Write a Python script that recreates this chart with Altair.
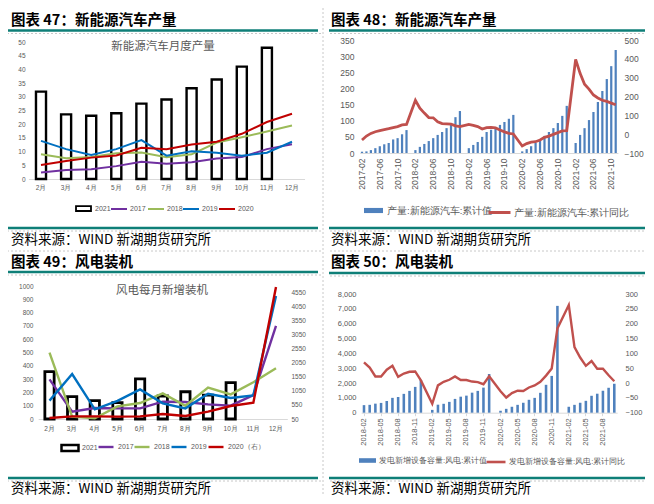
import altair as alt
import pandas as pd

W, H = 638, 488
M = 8


def X(x):
    return x - M


def Y(y):
    return y - M


# ---------------- data ----------------
months1 = ['2月', '3月', '4月', '5月', '6月', '7月', '8月', '9月', '10月', '11月', '12月']
nev_2021 = [31.9, 23.6, 23.1, 24.0, 27.5, 29.0, 33.1, 36.3, 41.0, 47.9]
nev_2017 = [2.4, 3.3, 3.6, 4.7, 6.3, 5.6, 6.1, 7.5, 8.0, 10.9, 12.7]
nev_2018 = [9.0, 7.6, 8.0, 9.4, 9.7, 7.9, 9.0, 13.3, 15.2, 17.3, 19.5]
nev_2019 = [13.9, 10.9, 8.8, 10.9, 14.2, 8.5, 10.1, 9.6, 8.5, 9.6, 13.6]
nev_2020 = [5.1, 6.6, 7.8, 8.6, 11.4, 10.9, 12.6, 13.6, 16.5, 20.8, 23.8]

all_months = [f"{y}-{m:02d}" for y in range(2017, 2022) for m in range(1, 13)]
months2 = all_months[all_months.index('2017-02'):all_months.index('2021-11') + 1]
nev_cum = [4, 5, 9, 15, 21, 27, 31, 42, 46, 58, 71,
           None, 9, 19, 28, 37, 46, 56, 65, 77, 90, 111, 130,
           None, 15, 25, 34, 50, 65, 72, 79, 87, 96, 106, 118,
           None, 5, 12, 21, 31, 39, 53, 65, 77, 93, 115, 146,
           None, 31, 56, 77, 102, 127, 158, 192, 229, 269, 319]
nev_yoy = [-31, -10, 4, 13, 19, 24, 29, 35, 40, 49, 52,
           None, 180, 138, 112, 88, 87, 66, 56, 55, 53, 44, 40,
           None, 52, 47, 40, 27, 35, 36, 33, 22, 12, 4, 1,
           None, -63, -50, -42, -40, -31, -17, -10, -1, 8, 17, 19,
           None, 397, 323, 265, 239, 208, 192, 180, 174, 165, 156]
ticks2 = ['2017-02', '2017-06', '2017-10', '2018-02', '2018-06', '2018-10', '2019-02',
          '2019-06', '2019-10', '2020-02', '2020-06', '2020-10', '2021-02', '2021-06', '2021-10']

wind_2021 = [356, 168, 138, 123, 301, 173, 205, 180, 273]
wind_2017 = [298, 55, 83, 80, 80, 130, 128, 110, 100, 180, 700]
wind_2018 = [499, 18, 5, 95, 120, 193, 100, 236, 185, 276, 381]
wind_2019 = [138, 338, 73, 137, 222, 118, 80, 190, 158, 178, 925]
wind_2020 = [86, 145, 145, 133, 145, 228, 157, 311, 513, 632, 4741]

months4 = all_months[all_months.index('2018-02'):all_months.index('2021-10') + 1]
wind_cum = [510, 530, 610, 660, 790, 1000, 1060, 1270, 1470, 1740, 2210,
            None, 190, 540, 600, 730, 930, 1080, 1150, 1350, 1470, 1690, 2610,
            None, 130, 260, 400, 530, 670, 870, 1000, 1340, 1880, 2480, 7200,
            None, 400, 530, 670, 800, 1140, 1280, 1480, 1680, 1950]
wind_yoy = [70, 52, 22, 22, 45, 58, 21, 32, 38, 39, 9,
            None, -70, -8, 4, 11, 22, 10, 10, 5, 3, -4, 23,
            None, -28, -49, -34, -26, -27, -15, -8, 4, 25, 49, 184,
            None, 263, 121, 86, 58, 74, 48, 48, 26, 6]
ticks4 = ['2018-02', '2018-05', '2018-08', '2018-11', '2019-02', '2019-05', '2019-08', '2019-11',
          '2020-02', '2020-05', '2020-08', '2020-11', '2021-02', '2021-05', '2021-08']

headers = ['图表 47：新能源汽车产量', '图表 48：新能源汽车产量', '图表 49：风电装机', '图表 50：风电装机']
source = '资料来源：WIND 新湖期货研究所'
inner1 = '新能源汽车月度产量'
inner3 = '风电每月新增装机'
leg2 = ['产量:新能源汽车:累计值', '产量:新能源汽车:累计同比']
leg4 = ['发电新增设备容量:风电:累计值', '发电新增设备容量:风电:累计同比']
years1 = ['2017', '2018', '2019', '2020']
years3 = ['2017', '2018', '2019', '2020（右）']
line_colors = ['#7030a0', '#9bbb59', '#0070c0', '#c00000']

# ---------------- style ----------------
GRAY = '#595959'
AXF = 'Liberation Sans'
CJK = 'Noto Sans CJK SC'
TEAL = '#0f7f78'
DASHC = '#c8c8c8'
BLUE = '#4f81bd'
RED = '#c0504d'
BOX1 = 'M-1,-0.33H1V0.33H-1Z'
BOX3 = 'M-1,-0.36H1V0.36H-1Z'
BAR2 = 'M-1,-0.27H1V0.27H-1Z'

one = pd.DataFrame({'k': [0]})
layers = []


def rule(x1, x2, y1, y2, color, width, dash=None):
    kw = dict(color=color, strokeWidth=width)
    if dash:
        kw['strokeDash'] = dash
    enc = dict(x=alt.value(X(x1)), y=alt.value(Y(y1)))
    if x2 is not None:
        enc['x2'] = alt.value(X(x2))
    if y2 is not None:
        enc['y2'] = alt.value(Y(y2))
    return alt.Chart(one).mark_rule(**kw).encode(**enc)


def text(s, x, y, size, weight='normal', color='black', align='left'):
    df = pd.DataFrame({'t': [s]})
    return alt.Chart(df).mark_text(align=align, baseline='middle', fontSize=size, fontWeight=weight,
                                   color=color, font=CJK).encode(
        x=alt.value(X(x)), y=alt.value(Y(y)), text='t:N')


def band(domain, c0, c_last, p):
    step = (c_last - c0) / (len(domain) - 1)
    a = c0 - step / 2
    b = a + len(domain) * step
    return alt.Scale(domain=domain, range=[X(a), X(b)], paddingInner=p, paddingOuter=p / 2)


def lin(d0, d1, y0, y1):
    return alt.Scale(domain=[d0, d1], range=[Y(y0), Y(y1)], nice=False, zero=False)


def xaxis(y_page, **kw):
    base = dict(orient='bottom', offset=Y(y_page) - H, title=None, grid=False, labelFont=AXF,
                labelColor=GRAY, domainColor='#d9d9d9', labelOverlap=False)
    base.update(kw)
    return alt.Axis(**base)


def yleft(x_page, **kw):
    base = dict(orient='left', offset=-X(x_page), title=None, grid=False, domain=False, ticks=False,
                labelFont=AXF, labelColor=GRAY, labelOverlap=False)
    base.update(kw)
    return alt.Axis(**base)


def yright(x_page, **kw):
    base = dict(orient='right', offset=X(x_page) - W, title=None, grid=False, domain=False, ticks=False,
                labelFont=AXF, labelColor=GRAY, labelOverlap=False)
    base.update(kw)
    return alt.Axis(**base)


def legend(x_page, y_top, **kw):
    base = dict(orient='none', legendX=X(x_page), legendY=Y(y_top), direction='horizontal', title=None,
                labelFont=AXF, labelColor=GRAY, padding=0)
    base.update(kw)
    return alt.Legend(**base)


# ---------------- frames (decoration) ----------------
# (x0, y0, header y, teal y, dashed y, footer teal y, footer dashed y, footer text y)
frames = [(0, 0, 20.5, 30.5, 33.5, 228, 231, 240),
          (327, 0, 20.5, 30.5, 33.5, 228, 231, 240),
          (0, 250, 263, 272, 275, 478, 481, 489),
          (327, 250, 263, 273, 276, 478, 481, 489)]
for i, (x0, y0, hy, ty, dy, fty, fdy, fy) in enumerate(frames):
    layers.append(rule(x0 + 2, x0 + 318, ty, None, TEAL, 2.5))
    layers.append(rule(x0 + 2, x0 + 318, fty, None, TEAL, 2.5))
    layers.append(rule(x0 + 3, x0 + 323, dy, None, DASHC, 1, [2, 2]))
    layers.append(rule(x0 + 3, x0 + 323, fdy, None, DASHC, 1, [2, 2]))
    if y0 > 0:
        layers.append(rule(x0 + 3, x0 + 323, y0 + 1, None, DASHC, 1, [2, 2]))
    tx = 11 if x0 == 0 else 331
    layers.append(text(headers[i], tx, hy, 14.5, weight='bold'))
    layers.append(text(source, tx, fy, 13.5))
for xv in [323, 651]:
    layers.append(rule(xv, None, 0, 504, DASHC, 1, [2, 2]))

# ---------------- panel 1 ----------------
sx1 = band(months1, 41, 292, 0.6)
sy1 = lin(0, 50, 179, 42)
df1b = pd.DataFrame({'m': months1[:len(nev_2021)], 'v': nev_2021, 's': '2021'})

layers.append(alt.Chart(df1b).mark_bar(fill='white', strokeWidth=2.4).encode(
    x=alt.X('m:N', scale=sx1, axis=xaxis(179, ticks=False, labelAngle=0, labelFontSize=6.5, labelPadding=5)),
    y=alt.Y('v:Q', scale=sy1, axis=yleft(28, values=list(range(0, 55, 5)), labelFontSize=6.5, labelPadding=3)),
    stroke=alt.Stroke('s:N', scale=alt.Scale(domain=['2021'], range=['black']),
                      legend=legend(75, 200, symbolType=BOX1, symbolSize=225, symbolStrokeWidth=1.8,
                                    symbolFillColor='white', labelFontSize=7, labelOffset=3))))
for yr, vals, col, lx in zip(years1, [nev_2017, nev_2018, nev_2019, nev_2020], line_colors,
                             [110, 147, 182, 218]):
    d = pd.DataFrame({'m': months1, 'v': vals, 's': yr, 'i': list(range(len(months1)))})
    layers.append(alt.Chart(d).mark_line(strokeWidth=2).encode(
        x=alt.X('m:N', scale=sx1, axis=None),
        y=alt.Y('v:Q', scale=sy1, axis=None),
        color=alt.Color('s:N', scale=alt.Scale(domain=[yr], range=[col]),
                        legend=legend(lx, 200, symbolType='stroke', symbolSize=256, symbolStrokeWidth=2,
                                      labelFontSize=7, labelOffset=2)),
        order='i:Q'))
layers.append(text(inner1, 163, 47, 11.5, color=GRAY, align='center'))

# ---------------- panel 2 ----------------
sx2 = band(months2, 362, 615.7, 0.5)
df2 = pd.DataFrame({'m': months2, 'cum': nev_cum, 'yoy': nev_yoy, 'i': list(range(len(months2)))})
df2['s1'] = leg2[0]
df2['s2'] = leg2[1]
layers.append(alt.Chart(df2).transform_filter('isValid(datum.cum)').mark_bar().encode(
    x=alt.X('m:N', scale=sx2, axis=xaxis(153, values=ticks2, ticks=False, labelAngle=270, labelAlign='right',
                                         labelBaseline='middle', labelFontSize=8.5, labelPadding=5)),
    y=alt.Y('cum:Q', scale=lin(0, 350, 153, 40),
            axis=yleft(358, values=list(range(0, 400, 50)), labelFontSize=8.5, labelPadding=4)),
    fill=alt.Fill('s1:N', scale=alt.Scale(domain=[leg2[0]], range=[BLUE]),
                  legend=legend(363, 200, symbolType=BAR2, symbolSize=361, labelFontSize=9.5, labelOffset=3,
                                labelLimit=300))))
layers.append(alt.Chart(df2).transform_filter('isValid(datum.yoy)').mark_line(strokeWidth=2.8).encode(
    x=alt.X('m:N', scale=sx2, axis=None),
    y=alt.Y('yoy:Q', scale=lin(-100, 500, 153, 40),
            axis=yright(619, values=list(range(-100, 600, 100)), labelFontSize=8.5, labelPadding=5)),
    color=alt.Color('s2:N', scale=alt.Scale(domain=[leg2[1]], range=[RED]),
                    legend=legend(487, 200, symbolType='stroke', symbolSize=484, symbolStrokeWidth=3,
                                  labelFontSize=9.5, labelOffset=2, labelLimit=300)),
    order='i:Q'))

# ---------------- panel 3 ----------------
sx3 = band(months1, 49.5, 276, 0.59)
sy3 = lin(0, 1000, 419, 286)
sy3r = lin(50, 4774, 419, 286)
df3b = pd.DataFrame({'m': months1[:len(wind_2021)], 'v': wind_2021, 's': '2021'})

layers.append(alt.Chart(df3b).mark_bar(fill='white', strokeWidth=2.8).encode(
    x=alt.X('m:N', scale=sx3, axis=xaxis(419, ticks=False, labelAngle=0, labelFontSize=6.5, labelPadding=6)),
    y=alt.Y('v:Q', scale=sy3, axis=yleft(37, values=list(range(0, 1100, 100)), format='d', labelFontSize=6.5,
                                         labelPadding=4)),
    stroke=alt.Stroke('s:N', scale=alt.Scale(domain=['2021'], range=['black']),
                      legend=legend(60, 438, symbolType=BOX3, symbolSize=289, symbolStrokeWidth=2.5,
                                    symbolFillColor='white', labelFontSize=7, labelOffset=2))))
for k, (yr, vals, col, lx) in enumerate(zip(years3, [wind_2017, wind_2018, wind_2019, wind_2020], line_colors,
                                            [97, 133, 170, 207])):
    d = pd.DataFrame({'m': months1, 'v': vals, 's': yr, 'i': list(range(len(months1)))})
    if k < 3:
        yenc = alt.Y('v:Q', scale=sy3, axis=None)
    else:
        yenc = alt.Y('v:Q', scale=sy3r, axis=yright(287, values=list(range(50, 5000, 500)), format='d',
                                                    labelFontSize=6.5, labelPadding=4))
    layers.append(alt.Chart(d).mark_line(strokeWidth=2.4).encode(
        x=alt.X('m:N', scale=sx3, axis=None),
        y=yenc,
        color=alt.Color('s:N', scale=alt.Scale(domain=[yr], range=[col]),
                        legend=legend(lx, 438, symbolType='stroke', symbolSize=225, symbolStrokeWidth=2.4,
                                      labelFontSize=7, labelOffset=3)),
        order='i:Q'))
layers.append(text(inner3, 162, 291, 11.5, color=GRAY, align='center'))

# ---------------- panel 4 ----------------
sx4 = band(months4, 364, 614.3, 0.55)
df4 = pd.DataFrame({'m': months4, 'cum': wind_cum, 'yoy': wind_yoy, 'i': list(range(len(months4)))})
df4['s1'] = leg4[0]
df4['s2'] = leg4[1]
layers.append(alt.Chart(df4).transform_filter('isValid(datum.cum)').mark_bar().encode(
    x=alt.X('m:N', scale=sx4, axis=xaxis(412.7, values=ticks4, ticks=True, tickSize=3, tickColor='#d9d9d9',
                                         labelAngle=270, labelAlign='right', labelBaseline='middle',
                                         labelFontSize=7.5, labelPadding=2)),
    y=alt.Y('cum:Q', scale=lin(0, 8000, 412.7, 294),
            axis=yleft(359, values=list(range(0, 9000, 1000)), format=',.0f', labelFontSize=7.5,
                       labelPadding=3)),
    fill=alt.Fill('s1:N', scale=alt.Scale(domain=[leg4[0]], range=[BLUE]),
                  legend=legend(358, 451, symbolType=BAR2, symbolSize=289, labelFontSize=7.8, labelOffset=2,
                                labelLimit=300))))
layers.append(alt.Chart(df4).transform_filter('isValid(datum.yoy)').mark_line(strokeWidth=2.4).encode(
    x=alt.X('m:N', scale=sx4, axis=None),
    y=alt.Y('yoy:Q', scale=lin(-100, 300, 412.7, 294),
            axis=yright(620, values=list(range(-100, 350, 50)), format='d', labelFontSize=7.5, labelPadding=5)),
    color=alt.Color('s2:N', scale=alt.Scale(domain=[leg4[1]], range=[RED]),
                    legend=legend(485, 451, symbolType='stroke', symbolSize=361, symbolStrokeWidth=2.6,
                                  labelFontSize=7.8, labelOffset=2, labelLimit=300)),
    order='i:Q'))

chart = alt.layer(*layers).properties(
    width=W, height=H, autosize=alt.AutoSizeParams(type='none'), padding=0
).resolve_scale(
    x='independent', y='independent', color='independent', stroke='independent', fill='independent'
).configure_view(strokeWidth=0)

chart.save("out.html", embed_options={"renderer": "svg", "actions": False})
